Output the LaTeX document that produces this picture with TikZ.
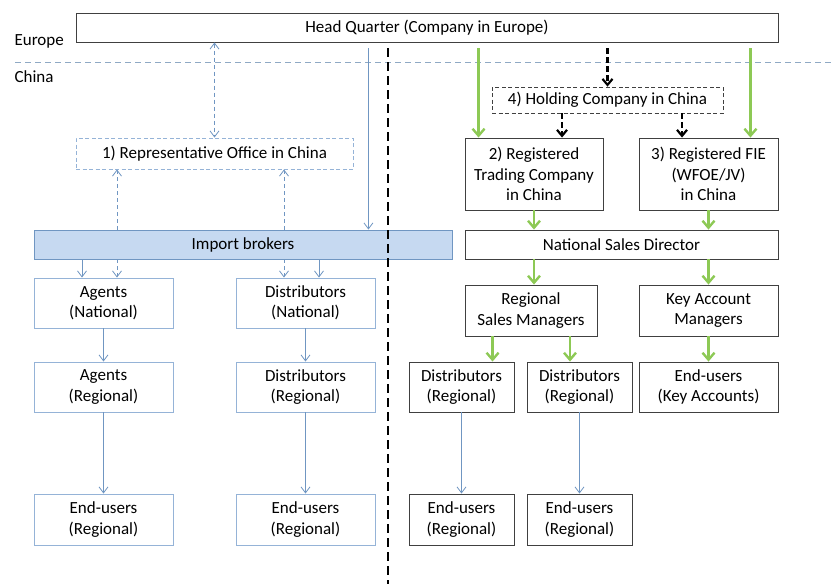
\documentclass[tikz,border=0pt]{standalone}
\usepackage{fontspec}
\setmainfont{Carlito}
\usetikzlibrary{arrows.meta}

\definecolor{lineblue}{HTML}{7096C2}
\definecolor{boxblue}{HTML}{95B3D7}
\definecolor{fillblue}{HTML}{C6D9F1}
\definecolor{leafgreen}{HTML}{8DC955}
\definecolor{boxgray}{HTML}{404040}
\definecolor{sepblue}{HTML}{8FA9C4}

\tikzset{
	bluetip/.tip={Straight Barb[length=6pt,width=9pt]},
	greentip/.tip={Straight Barb[length=7pt,width=12pt]},
	blacktip/.tip={Straight Barb[length=6pt,width=10pt]},
	box/.style={draw=boxgray, line width=0.9pt, align=center, inner sep=1pt, font=\fontsize{17}{20.5}\selectfont},
	bluebox/.style={box, draw=boxblue},
	bluearrow/.style={draw=lineblue, line width=0.8pt, -bluetip},
	bluedash/.style={draw=lineblue, line width=0.8pt, dash pattern=on 4pt off 3pt},
	greenarrow/.style={draw=leafgreen, line width=2.4pt, -greentip},
	blackarrow/.style={draw=black, line width=2.2pt, dash pattern=on 6pt off 3pt, -blacktip},
}

\begin{document}
\begin{tikzpicture}[x=1pt,y=-1pt]
	\useasboundingbox (0,0) rectangle (833,584);

	% regions
	\node[anchor=west, font=\fontsize{17}{20.5}\selectfont] (eu) at (11,41) {Europe};
	\node[anchor=west, font=\fontsize{17}{20.5}\selectfont] (cn) at (11,77) {China};
	\draw[sepblue, line width=0.8pt, dash pattern=on 6pt off 4pt] (15,62) -- (833,62);

	\node[box, minimum width=702pt, minimum height=29pt] (hq) at (427,27.5) {Head Quarter (Company in Europe)};

	% left: representative office and import brokers
	\node[bluebox, dash pattern=on 4pt off 2.5pt, minimum width=277pt, minimum height=31pt] (rep) at (214.5,153.5) {1) Representative Office in China};
	\node[bluebox, draw=lineblue, fill=fillblue, minimum width=418pt, minimum height=29pt] (imp) at (243,244.5) {Import brokers};

	\node[bluebox, minimum width=139pt, minimum height=50pt] (agn) at (103.5,303) {Agents\\(National)};
	\node[bluebox, minimum width=139pt, minimum height=50pt] (agr) at (103.5,387) {Agents\\(Regional)};
	\node[bluebox, minimum width=139pt, minimum height=51pt] (eul) at (103.5,519.5) {End-users\\(Regional)};

	\node[bluebox, minimum width=139pt, minimum height=50pt] (din) at (305.5,303) {Distributors\\(National)};
	\node[bluebox, minimum width=139pt, minimum height=50pt] (dir) at (305.5,387) {Distributors\\(Regional)};
	\node[bluebox, minimum width=139pt, minimum height=51pt] (eud) at (305.5,519.5) {End-users\\(Regional)};

	% right: registered companies
	\node[box, line width=0.8pt, dash pattern=on 4pt off 2.5pt, minimum width=231pt, minimum height=26pt] (hold) at (607.5,100) {4) Holding Company in China};
	\node[box, minimum width=138pt, minimum height=72pt] (reg) at (534,174) {2) Registered\\Trading Company\\in China};
	\node[box, minimum width=139pt, minimum height=72pt] (fie) at (708.5,174) {3) Registered FIE\\(WFOE/JV)\\in China};
	\node[box, minimum width=313pt, minimum height=29pt] (nsd) at (621.5,244.5) {National Sales Director};

	\node[box, minimum width=132pt, minimum height=51pt] (rsm) at (531,310.5) {Regional\\Sales Managers};
	\node[box, minimum width=139pt, minimum height=51pt] (kam) at (708.5,310.5) {Key Account\\Managers};

	\node[box, minimum width=105pt, minimum height=50pt] (dra) at (461.5,387) {Distributors\\(Regional)};
	\node[box, minimum width=105pt, minimum height=50pt] (drb) at (579.5,387) {Distributors\\(Regional)};
	\node[box, minimum width=139pt, minimum height=50pt] (eka) at (708.5,387) {End-users\\(Key Accounts)};
	\node[box, minimum width=105pt, minimum height=51pt] (eua) at (461.5,519.5) {End-users\\(Regional)};
	\node[box, minimum width=105pt, minimum height=51pt] (eub) at (579.5,519.5) {End-users\\(Regional)};

	% blue connectors
	\coordinate (aga) at ([xshift=-21.5pt]agn.north);
	\coordinate (agb) at ([xshift=13.5pt]agn.north);
	\coordinate (dia) at ([xshift=-21.5pt]din.north);
	\coordinate (dib) at ([xshift=13.5pt]din.north);
	\coordinate (hqi) at ([xshift=-84pt]imp.north east);

	\draw[bluedash, bluetip-bluetip] (hq.south -| rep.north) -- (rep.north);
	\draw[bluedash, -bluetip] (agb |- imp.north) -- (agb |- rep.south);
	\draw[bluedash, -bluetip] (dia |- imp.north) -- (dia |- rep.south);
	\draw[bluearrow, shorten <=6pt] (hqi |- hq.south) -- (hqi);

	\draw[bluearrow] (aga |- imp.south) -- (aga);
	\draw[bluedash, -bluetip] (agb |- imp.south) -- (agb);
	\draw[bluedash, -bluetip] (dia |- imp.south) -- (dia);
	\draw[bluearrow] (dib |- imp.south) -- (dib);

	\draw[bluearrow] (agn.south) -- (agr.north);
	\draw[bluearrow] (agr.south) -- (eul.north);
	\draw[bluearrow] (din.south) -- (dir.north);
	\draw[bluearrow] (dir.south) -- (eud.north);
	\draw[bluearrow] (dra.south) -- (eua.north);
	\draw[bluearrow] (drb.south) -- (eub.north);

	% green and black connectors
	\coordinate (gta) at ([xshift=14pt]reg.north west);
	\coordinate (gtb) at ([xshift=-28pt]fie.north east);
	\coordinate (hda) at ([xshift=28pt]reg.north);
	\coordinate (hdb) at ([xshift=-26.5pt]fie.north);
	\coordinate (rsa) at ([xshift=28pt]rsm.south west);
	\coordinate (rsb) at ([xshift=39pt]rsm.south);

	\draw[greenarrow, shorten <=6pt] (gta |- hq.south) -- (gta);
	\draw[greenarrow, shorten <=6pt] (gtb |- hq.south) -- (gtb);
	\draw[blackarrow, shorten <=6pt] (hq.south -| hold.north) -- (hold.north);
	\draw[blackarrow] (hda |- hold.south) -- (hda);
	\draw[blackarrow] (hdb |- hold.south) -- (hdb);

	\draw[greenarrow] (reg.south) -- (reg.south |- nsd.north);
	\draw[greenarrow] (fie.south) -- (fie.south |- nsd.north);
	\draw[greenarrow] (reg.south |- nsd.south) -- (reg.south |- rsm.north);
	\draw[greenarrow] (kam.north |- nsd.south) -- (kam.north);
	\draw[greenarrow] (rsa) -- (rsa |- dra.north);
	\draw[greenarrow] (rsb) -- (rsb |- drb.north);
	\draw[greenarrow] (kam.south) -- (eka.north);

	% China divider
	\draw[black, line width=1.3pt, dash pattern=on 9pt off 5pt] (388,48) -- (388,584);

\end{tikzpicture}
\end{document}
